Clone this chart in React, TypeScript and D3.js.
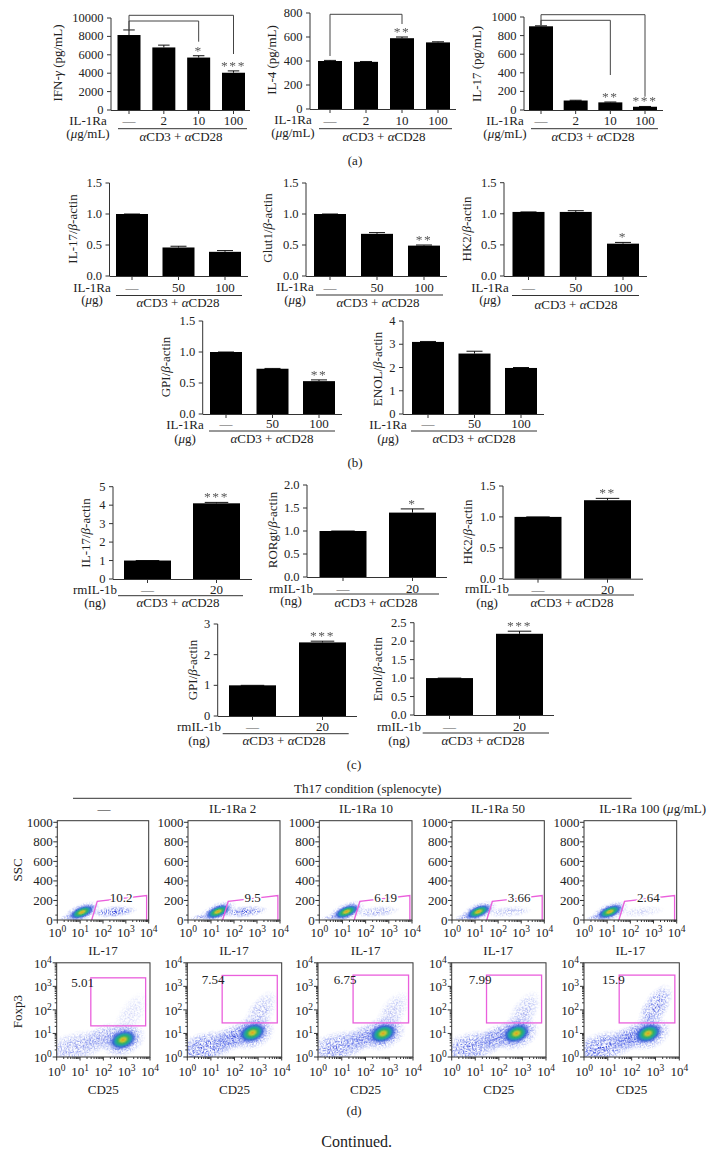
import React from "react";
import * as d3 from "d3";

const FONT = "'Liberation Serif','Times New Roman',serif";
const FS = 13;
const TICK = 12.5;
const FLOWTICK = 13;
const INK = "#222";

// ---------- bar data ----------
const ilRaA = ["—", "2", "10", "100"];
const ilRaB = ["—", "50", "100"];
const rmIl = ["—", "20"];

const ifnValues = [8150, 6800, 5700, 4050];
const ifnErrors = [8700, 7050, 5900, 4250];
const ifnStars = ["", "", "*", "***"];
const il4Values = [400, 393, 590, 555];
const il4Errors = [405, 396, 600, 560];
const il4Stars = ["", "", "**", ""];
const il17aValues = [900, 102, 82, 35];
const il17aErrors = [905, 105, 86, 38];
const il17aStars = ["", "", "**", "***"];

const il17bValues = [1.0, 0.46, 0.39];
const il17bErrors = [1.0, 0.48, 0.41];
const glutValues = [1.0, 0.68, 0.49];
const glutErrors = [1.0, 0.7, 0.5];
const hk2bValues = [1.03, 1.03, 0.52];
const hk2bErrors = [1.03, 1.05, 0.54];
const gpibValues = [1.0, 0.73, 0.53];
const gpibErrors = [1.0, 0.735, 0.55];
const enolbValues = [3.1, 2.6, 1.98];
const enolbErrors = [3.12, 2.7, 2.0];

const il17cValues = [1.0, 4.1];
const il17cErrors = [1.0, 4.15];
const rorValues = [1.0, 1.4];
const rorErrors = [1.0, 1.48];
const hk2cValues = [1.0, 1.27];
const hk2cErrors = [1.0, 1.3];
const gpicValues = [1.0, 2.4];
const gpicErrors = [1.0, 2.44];
const enolcValues = [1.0, 2.2];
const enolcErrors = [1.0, 2.27];

const t10000 = [0, 2000, 4000, 6000, 8000, 10000];
const t800 = [0, 200, 400, 600, 800];
const t1000 = [0, 200, 400, 600, 800, 1000];
const t15 = [0, 0.5, 1.0, 1.5];
const t4 = [0, 1, 2, 3, 4];
const t5 = [0, 1, 2, 3, 4, 5];
const t2 = [0, 0.5, 1.0, 1.5, 2.0];
const t3 = [0, 1, 2, 3];
const t25 = [0, 0.5, 1.0, 1.5, 2.0, 2.5];

type Bar = {
  ylabel: string; values: number[]; errors: number[]; stars?: string[]; cats: string[]; ticks: number[]; fmt?: string;
  ax: number; yTop: number; y0: number; c0: number; c1: number; bw: number; end: number;
  ylx: number; yly: number; l1: string; l2: string; lx: number; l1y: number; l2y: number;
  tickY: number; ulx0: number; ulx1: number; uly: number; capx: number; capy: number;
};

const barPanels: Bar[] = [
  { ylabel: "IFN-γ (pg/mL)", values: ifnValues, errors: ifnErrors, stars: ifnStars, cats: ilRaA, ticks: t10000, ax: 111, yTop: 18, y0: 110, c0: 129, c1: 233.5, bw: 23, end: 250, ylx: 62, yly: 63, l1: "IL-1Ra", l2: "(μg/mL)", lx: 88, l1y: 125, l2y: 137.5, tickY: 125, ulx0: 118, ulx1: 247, uly: 128.7, capx: 181, capy: 141 },
  { ylabel: "IL-4 (pg/mL)", values: il4Values, errors: il4Errors, stars: il4Stars, cats: ilRaA, ticks: t800, ax: 310, yTop: 13, y0: 109, c0: 330, c1: 438, bw: 24, end: 456, ylx: 276, yly: 60, l1: "IL-1Ra", l2: "(μg/mL)", lx: 293, l1y: 124, l2y: 137, tickY: 125, ulx0: 319, ulx1: 452, uly: 128.7, capx: 384, capy: 141 },
  { ylabel: "IL-17 (pg/mL)", values: il17aValues, errors: il17aErrors, stars: il17aStars, cats: ilRaA, ticks: t1000, ax: 524, yTop: 17, y0: 110, c0: 541, c1: 645, bw: 24, end: 663, ylx: 481, yly: 64, l1: "IL-1Ra", l2: "(μg/mL)", lx: 505, l1y: 125, l2y: 138, tickY: 125, ulx0: 531, ulx1: 658, uly: 128.7, capx: 593, capy: 141 },

  { ylabel: "IL-17/β-actin", values: il17bValues, errors: il17bErrors, cats: ilRaB, ticks: t15, fmt: ".1f", ax: 109.5, yTop: 183, y0: 276, c0: 132, c1: 225, bw: 32, end: 248, ylx: 77, yly: 229, l1: "IL-1Ra", l2: "(μg)", lx: 92, l1y: 291.7, l2y: 304, tickY: 291.7, ulx0: 116, ulx1: 242, uly: 295.5, capx: 178, capy: 307 },
  { ylabel: "Glut1/β-actin", values: glutValues, errors: glutErrors, stars: ["", "", "**"], cats: ilRaB, ticks: t15, fmt: ".1f", ax: 306, yTop: 183, y0: 276, c0: 330, c1: 424, bw: 32, end: 447, ylx: 272, yly: 228, l1: "IL-1Ra", l2: "(μg)", lx: 295, l1y: 291, l2y: 304, tickY: 291.7, ulx0: 316, ulx1: 443, uly: 295, capx: 378, capy: 307 },
  { ylabel: "HK2/β-actin", values: hk2bValues, errors: hk2bErrors, stars: ["", "", "*"], cats: ilRaB, ticks: t15, fmt: ".1f", ax: 504, yTop: 182.7, y0: 276, c0: 528.5, c1: 623, bw: 32, end: 647, ylx: 471, yly: 229, l1: "IL-1Ra", l2: "(μg)", lx: 490, l1y: 291.7, l2y: 304, tickY: 291.7, ulx0: 512, ulx1: 639, uly: 295.5, capx: 576, capy: 309 },
  { ylabel: "GPI/β-actin", values: gpibValues, errors: gpibErrors, stars: ["", "", "**"], cats: ilRaB, ticks: t15, fmt: ".1f", ax: 202.7, yTop: 321, y0: 414, c0: 226, c1: 319, bw: 32, end: 342, ylx: 170, yly: 367, l1: "IL-1Ra", l2: "(μg)", lx: 185, l1y: 428.5, l2y: 443, tickY: 428, ulx0: 209, ulx1: 335, uly: 431, capx: 272, capy: 443 },
  { ylabel: "ENOL/β-actin", values: enolbValues, errors: enolbErrors, cats: ilRaB, ticks: t4, ax: 403, yTop: 321, y0: 414, c0: 428, c1: 521, bw: 32, end: 544, ylx: 382, yly: 369, l1: "IL-1Ra", l2: "(μg)", lx: 388, l1y: 428.5, l2y: 443, tickY: 428, ulx0: 411, ulx1: 537, uly: 431, capx: 474, capy: 443 },

  { ylabel: "IL-17/β-actin", values: il17cValues, errors: il17cErrors, stars: ["", "***"], cats: rmIl, ticks: t5, ax: 113, yTop: 486.7, y0: 579, c0: 147.5, c1: 216.5, bw: 47, end: 252, ylx: 90, yly: 533, l1: "rmIL-1b", l2: "(ng)", lx: 95, l1y: 594, l2y: 607, tickY: 594, ulx0: 118, ulx1: 243, uly: 595.7, capx: 178, capy: 607 },
  { ylabel: "RORgt/β-actin", values: rorValues, errors: rorErrors, stars: ["", "*"], cats: rmIl, ticks: t2, fmt: ".1f", ax: 307, yTop: 485, y0: 577, c0: 343, c1: 412.5, bw: 47, end: 447, ylx: 277, yly: 530, l1: "rmIL-1b", l2: "(ng)", lx: 291, l1y: 592.7, l2y: 605, tickY: 592.7, ulx0: 313, ulx1: 439, uly: 594, capx: 376, capy: 607 },
  { ylabel: "HK2/β-actin", values: hk2cValues, errors: hk2cErrors, stars: ["", "**"], cats: rmIl, ticks: t15, fmt: ".1f", ax: 503, yTop: 486, y0: 578.7, c0: 538, c1: 607.5, bw: 47, end: 643, ylx: 472, yly: 532, l1: "rmIL-1b", l2: "(ng)", lx: 487, l1y: 593, l2y: 607, tickY: 593.5, ulx0: 508, ulx1: 634, uly: 595, capx: 572, capy: 607 },
  { ylabel: "GPI/β-actin", values: gpicValues, errors: gpicErrors, stars: ["", "***"], cats: rmIl, ticks: t3, ax: 217.7, yTop: 624, y0: 716, c0: 252.5, c1: 322.5, bw: 47, end: 357, ylx: 197, yly: 670, l1: "rmIL-1b", l2: "(ng)", lx: 199, l1y: 730.7, l2y: 745, tickY: 730.7, ulx0: 222.7, ulx1: 348.7, uly: 733.7, capx: 284, capy: 745 },
  { ylabel: "Enol/β-actin", values: enolcValues, errors: enolcErrors, stars: ["", "***"], cats: rmIl, ticks: t25, fmt: ".1f", ax: 414, yTop: 622.7, y0: 715, c0: 449.5, c1: 519.5, bw: 47, end: 554, ylx: 382, yly: 669, l1: "rmIL-1b", l2: "(ng)", lx: 399, l1y: 730.7, l2y: 745, tickY: 730.7, ulx0: 422.7, ulx1: 549, uly: 733, capx: 483, capy: 745 },
];

// significance brackets: [panel index, from category, to category, level y, left end y, right end y]
const brackets: [number, number, number, number, number, number][] = [
  [0, 0, 3, 15.3, 30, 54],
  [0, 0, 2, 21, 30, 41.7],
  [1, 0, 2, 14.3, 56, 24],
  [2, 0, 3, 14.7, 25, 96.7],
  [2, 0, 2, 20.3, 25, 75],
];

// ---------- flow data ----------
const flowHeads = ["—", "IL-1Ra 2", "IL-1Ra 10", "IL-1Ra 50", "IL-1Ra 100 (μg/mL)"];
const sscPct = ["10.2", "9.5", "6.19", "3.66", "2.64"];
const foxPct = ["5.01", "7.54", "6.75", "7.99", "15.9"];

// core population: IL-17, SSC
const sscCoreX = [12, 20, 15, 14, 13];
const sscCoreY = [80, 85, 85, 85, 85];
// share of events in the gated tail, per sample
const sscTail = [1, 0.9, 0.55, 0.45, 0.28];
// foxp3 panel populations
const foxCoreX = [700, 575, 550, 560, 490];
const foxCoreY = [5.4, 10.7, 10, 10, 10];
const foxLowStrength = [0.6, 1, 0.85, 0.9, 1];
const foxArmStrength = [0.22, 0.5, 0.4, 0.45, 0.85];
const foxArmX = [1500, 1200, 1300, 1100, 1000];
const foxArmY = [60, 70, 70, 70, 130];

// gate: [x-lo, x-hi, y-lo, y-hi]
const foxGates = [
  [29, 6500, 21, 2300],
  [30, 6500, 28, 2900],
  [30, 6500, 28, 3000],
  [30, 6500, 28, 3000],
  [30, 6500, 28, 3000],
];
const sscGate: [number, number][] = [[32, 0], [56, 190], [8100, 250], [8100, 0]];

const topLeft = [57.3, 188, 319.3, 452, 584];
const topRight = [148.7, 280, 412, 544.3, 676.7];
const botLeft = [56.7, 187.3, 318, 451.7, 584];
const botRight = [150, 281.7, 413, 546, 679.3];
const headX = [104, 232.7, 366, 498, 652.7];
const topLabX = [121, 252.7, 385.7, 519, 648.3];
const botLabX = [82.7, 213, 345, 480, 613.3];
const botLabY = [986.7, 984, 984, 984, 984];

// ---------- helpers ----------
function Rich({ s }: { s: string }) {
  const parts = s.split(/([αβγμ])/);
  return <>{parts.map((p, i) => (/^[αβγμ]$/.test(p) ? <tspan key={i} fontStyle="italic">{p}</tspan> : <tspan key={i}>{p}</tspan>))}</>;
}

function T(p: any) {
  const { s, ...r } = p;
  return <text fontFamily={FONT} fontSize={FS} fill={INK} textAnchor="middle" {...r}><Rich s={s} /></text>;
}

function BarPanel({ d, idx }: { d: Bar; idx: number }) {
  const y = d3.scaleLinear().domain([d.ticks[0], d.ticks[d.ticks.length - 1]]).range([d.y0, d.yTop]);
  const x = d3.scalePoint<string>().domain(d.cats).range([d.c0, d.c1]);
  const f = d.fmt ? d3.format(d.fmt) : (v: number) => String(v);
  const lineCol = "#333";
  return (
    <g>
      <T s={d.ylabel} transform={`translate(${d.ylx},${d.yly}) rotate(-90)`} />
      <line x1={d.ax} x2={d.ax} y1={d.yTop} y2={d.y0} stroke={lineCol} />
      <line x1={d.ax} x2={d.end} y1={d.y0 + 0.5} y2={d.y0 + 0.5} stroke={lineCol} />
      {d.ticks.map((t) => (
        <g key={t}>
          <line x1={d.ax - 4} x2={d.ax} y1={y(t)} y2={y(t)} stroke={lineCol} />
          <T s={f(t)} x={d.ax - 7.5} y={y(t) + 4} textAnchor="end" fontSize={TICK} />
        </g>
      ))}
      {d.cats.map((c, i) => {
        const cx = x(c)!;
        const top = y(d.values[i]);
        const et = y(d.errors[i]);
        const cap = d.bw / 2;
        return (
          <g key={i}>
            <line x1={cx} x2={cx} y1={d.y0} y2={d.y0 + 4} stroke={lineCol} />
            <line x1={cx} x2={cx} y1={et} y2={top} stroke="#111" />
            <line x1={cx - cap / 2} x2={cx + cap / 2} y1={et} y2={et} stroke="#111" />
            <rect x={cx - d.bw / 2} y={top} width={d.bw} height={d.y0 - top} fill="#000" />
            <T s={c} x={cx} y={d.tickY} fill={c === "—" ? "#555" : INK} />
            {d.stars && d.stars[i] ? (
              <text x={cx} y={et - 1} textAnchor="middle" fontFamily={FONT} fontSize={13.5} letterSpacing={1.6} fill="#555" opacity={0.99}>{d.stars[i]}</text>
            ) : null}
          </g>
        );
      })}
      <T s={d.l1} x={d.lx} y={d.l1y} />
      <T s={d.l2} x={d.lx} y={d.l2y} />
      <line x1={d.ulx0} x2={d.ulx1} y1={d.uly} y2={d.uly} stroke="#333" />
      <T s="αCD3 + αCD28" x={d.capx} y={d.capy} />
      {brackets.filter((b) => b[0] === idx).map((b, i) => {
        const xa = x(d.cats[b[1]])!;
        const xb = x(d.cats[b[2]])!;
        return <path key={i} d={`M${xa},${b[4]}V${b[3]}H${xb}V${b[5]}`} fill="none" stroke="#444" />;
      })}
    </g>
  );
}

function Pow({ x, y, e, anchor = "middle" }: { x: number; y: number; e: number; anchor?: string }) {
  return (
    <text x={x} y={y} fontFamily={FONT} fontSize={FLOWTICK} fill={INK} textAnchor={anchor}>
      10<tspan dy={-5} fontSize={9.5}>{e}</tspan>
    </text>
  );
}

const decades = [0, 1, 2, 3, 4];
const minorLog = d3.range(0, 4).flatMap((e) => d3.range(2, 10).map((m) => m * 10 ** e));

function Cloud({ sx, sy, cx, cy, rx, ry, tilt, strength, core }: any) {
  return (
    <ellipse cx={sx(cx)} cy={sy(cy)} rx={rx} ry={ry} transform={`rotate(${tilt},${sx(cx)},${sy(cy)})`}
      fill={core ? "url(#core)" : "url(#sparse)"} opacity={strength} filter={core ? "url(#soft)" : "url(#stipple)"} />
  );
}

function TopFlow({ i }: { i: number }) {
  const l = topLeft[i], r = topRight[i], t = 820.7, b = 920;
  const sx = d3.scaleLog().domain([1, 1e4]).range([l, r]);
  const sy = d3.scaleLinear().domain([0, 1000]).range([b, 822.3]);
  const line = d3.line<[number, number]>().x((p) => sx(p[0])).y((p) => sy(p[1]));
  return (
    <g>
      <g clipPath={`url(#ct${i})`}>
        <Cloud sx={sx} sy={sy} cx={300} cy={85} rx={24} ry={6} tilt={-5} strength={sscTail[i]} />
        <Cloud sx={sx} sy={sy} cx={3.5} cy={30} rx={11} ry={3} tilt={-8} strength={0.6} />
        <Cloud sx={sx} sy={sy} cx={sscCoreX[i]} cy={sscCoreY[i]} rx={20} ry={9} tilt={-22} strength={1} />
        <Cloud sx={sx} sy={sy} cx={sscCoreX[i]} cy={sscCoreY[i]} rx={15} ry={6.5} tilt={-22} strength={1} core />
      </g>
      <path d={line(sscGate)!} fill="none" stroke="#ea5fdc" strokeWidth={1.3} />
      <rect x={l} y={t} width={r - l} height={b - t} fill="none" stroke="#333" />
      {t1000.map((v) => (
        <g key={v}>
          <line x1={l - 4} x2={l} y1={sy(v)} y2={sy(v)} stroke="#333" />
          <text x={l - 4.5} y={sy(v) + 4.5} textAnchor="end" fontFamily={FONT} fontSize={FLOWTICK} fill={INK}>{v}</text>
        </g>
      ))}
      {d3.range(50, 1000, 100).map((v) => (
        <line key={v} x1={l - 2} x2={l} y1={sy(v)} y2={sy(v)} stroke="#333" />
      ))}
      {decades.map((e) => (
        <g key={e}>
          <line x1={sx(10 ** e)} x2={sx(10 ** e)} y1={b} y2={b + 3.5} stroke="#333" />
          <Pow x={sx(10 ** e)} y={936.7} e={e} />
        </g>
      ))}
      {minorLog.map((v) => (
        <line key={v} x1={sx(v)} x2={sx(v)} y1={b} y2={b + 2} stroke="#333" />
      ))}
      <text x={topLabX[i]} y={901.5} textAnchor="middle" fontFamily={FONT} fontSize={FLOWTICK} fill={INK} stroke="#fff" strokeWidth={3} paintOrder="stroke">{sscPct[i]}</text>
      <T s="IL-17" x={(l + r) / 2} y={955} />
      <T s={flowHeads[i]} x={headX[i]} y={813} />
    </g>
  );
}

function BotFlow({ i }: { i: number }) {
  const l = botLeft[i], r = botRight[i], t = 962.8, b = 1057;
  const sx = d3.scaleLog().domain([1, 1e4]).range([l, r]);
  const sy = d3.scaleLog().domain([1, 1e4]).range([b, t]);
  const g = foxGates[i];
  return (
    <g>
      <g clipPath={`url(#cb${i})`}>
        <Cloud sx={sx} sy={sy} cx={6} cy={2.6} rx={36} ry={16} tilt={-14} strength={foxLowStrength[i]} />
        <Cloud sx={sx} sy={sy} cx={100} cy={7} rx={26} ry={13} tilt={-20} strength={foxLowStrength[i]} />
        <Cloud sx={sx} sy={sy} cx={foxArmX[i]} cy={foxArmY[i]} rx={27} ry={13} tilt={-58} strength={foxArmStrength[i]} />
        <Cloud sx={sx} sy={sy} cx={foxCoreX[i]} cy={foxCoreY[i]} rx={24} ry={17} tilt={-20} strength={1} />
        <Cloud sx={sx} sy={sy} cx={foxCoreX[i]} cy={foxCoreY[i]} rx={16} ry={10.5} tilt={-20} strength={1} core />
      </g>
      <rect x={sx(g[0])} y={sy(g[3])} width={sx(g[1]) - sx(g[0])} height={sy(g[2]) - sy(g[3])} fill="none" stroke="#ea5fdc" strokeWidth={1.3} />
      <rect x={l} y={t} width={r - l} height={b - t} fill="none" stroke="#333" />
      {decades.map((e) => (
        <g key={e}>
          <line x1={sx(10 ** e)} x2={sx(10 ** e)} y1={b} y2={b + 3.5} stroke="#333" />
          <line x1={l - 4} x2={l} y1={sy(10 ** e)} y2={sy(10 ** e)} stroke="#333" />
          <Pow x={sx(10 ** e)} y={1076} e={e} />
          <Pow x={l - 5} y={sy(10 ** e) + 5} e={e} anchor="end" />
        </g>
      ))}
      {minorLog.map((v) => (
        <g key={v}>
          <line x1={sx(v)} x2={sx(v)} y1={b} y2={b + 2} stroke="#333" />
          <line x1={l - 2} x2={l} y1={sy(v)} y2={sy(v)} stroke="#333" />
        </g>
      ))}
      <text x={botLabX[i]} y={botLabY[i]} textAnchor="middle" fontFamily={FONT} fontSize={FLOWTICK} fill={INK}>{foxPct[i]}</text>
      <T s="CD25" x={(l + r) / 2} y={1094} />
    </g>
  );
}

export default function App() {
  return (
    <svg width={714} height={1156} viewBox="0 0 714 1156" style={{ position: "absolute", left: 0, top: 0, background: "#fff" }}>
      <defs>
        <radialGradient id="core">
          <stop offset="0%" stopColor="#e09a20" />
          <stop offset="16%" stopColor="#c8c830" />
          <stop offset="34%" stopColor="#30b060" />
          <stop offset="50%" stopColor="#20a0a8" />
          <stop offset="66%" stopColor="#2a58d0" stopOpacity="0.85" />
          <stop offset="82%" stopColor="#5a72e4" stopOpacity="0.35" />
          <stop offset="100%" stopColor="#8090f0" stopOpacity="0" />
        </radialGradient>
        <radialGradient id="sparse">
          <stop offset="0%" stopColor="#2a3cd8" stopOpacity="1" />
          <stop offset="55%" stopColor="#4a60e6" stopOpacity="0.75" />
          <stop offset="100%" stopColor="#8a9af4" stopOpacity="0" />
        </radialGradient>
        <filter id="stipple" x="-10%" y="-10%" width="120%" height="120%" colorInterpolationFilters="sRGB">
          <feTurbulence type="fractalNoise" baseFrequency="0.8" numOctaves="2" seed="4" result="n" />
          <feColorMatrix in="n" type="matrix" values="0 0 0 0 0 0 0 0 0 0 0 0 0 0 0 5 0 0 0 -2.2" result="m" />
          <feComposite in="SourceGraphic" in2="m" operator="in" />
          <feGaussianBlur stdDeviation="0.25" />
        </filter>
        <filter id="soft"><feGaussianBlur stdDeviation="0.6" /></filter>
        {topLeft.map((l, i) => (
          <clipPath id={`ct${i}`} key={i}><rect x={l} y={820.7} width={topRight[i] - l} height={99.3} /></clipPath>
        ))}
        {botLeft.map((l, i) => (
          <clipPath id={`cb${i}`} key={i}><rect x={l} y={962.8} width={botRight[i] - l} height={94.2} /></clipPath>
        ))}
      </defs>
      {barPanels.map((d, i) => <BarPanel key={i} d={d} idx={i} />)}
      <T s="(a)" x={355} y={165} />
      <T s="(b)" x={355} y={467} />
      <T s="(c)" x={354} y={769} />
      <T s="Th17 condition (splenocyte)" x={367.7} y={793} />
      <line x1={73} x2={631.7} y1={798.3} y2={798.3} stroke="#333" />
      <T s="SSC" transform="translate(22,870) rotate(-90)" />
      <T s="Foxp3" transform="translate(22,1011.7) rotate(-90)" />
      {topLeft.map((_, i) => <TopFlow key={i} i={i} />)}
      {botLeft.map((_, i) => <BotFlow key={i} i={i} />)}
      <T s="(d)" x={354} y={1115} />
      <T s="Continued." x={356.7} y={1146.7} fontSize={16} />
    </svg>
  );
}
